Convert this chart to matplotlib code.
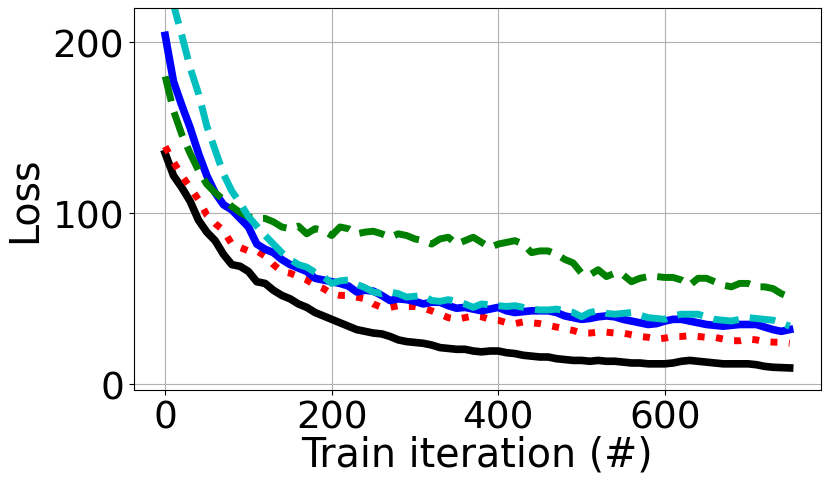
import matplotlib
matplotlib.use('Agg')
import matplotlib.pyplot as plt
import numpy as np

# train iterations, sampled every 10
iters = np.arange(0, 751, 10)

loss_black = [135, 122, 115, 107, 96, 89, 84, 76, 70, 69,
              66, 60, 59, 55, 52, 50, 47, 45, 42, 40,
              38, 36, 34, 32, 31, 30, 29.5, 28, 26, 25,
              24.5, 24, 23, 21.5, 21, 20.5, 20.5, 19.5, 19, 19.5,
              19.5, 18.5, 18, 17, 16.5, 16, 16, 15, 14.5, 14,
              14, 13.5, 14, 13.5, 13.5, 13, 12.5, 12.5, 12, 12,
              12, 12.5, 13.5, 14, 13.5, 13, 12.5, 12, 12, 12,
              12, 11.5, 10.5, 10, 9.8, 9.6]

loss_red = [139, 130, 122, 115, 108, 99, 94, 90, 82, 80,
            78, 78, 75, 70, 66, 65, 63, 61, 58, 56,
            53, 52, 52, 51, 50, 47, 45, 45, 46, 45.5,
            45.5, 44.5, 43, 41, 39, 38, 39, 40, 39.5, 38,
            37.5, 36, 35.5, 36.5, 36, 35.5, 34.5, 33.5, 32.5, 31.5,
            30, 30, 30.5, 30.5, 30, 30, 29, 28, 27.5, 26.5,
            27, 28, 28, 28.5, 28, 27.5, 27.5, 26.5, 25.5, 25.5,
            26.5, 26, 25, 24.7, 24.5, 24]

loss_blue = [204, 177, 163, 150, 135, 122, 112, 105, 102, 97,
             92, 82, 79, 77, 73, 70, 68, 66, 62, 61,
             60, 59, 57.5, 54, 55, 54.5, 52, 49, 50, 49.5,
             48.5, 47, 48, 48, 46, 44.5, 45, 44, 43, 44,
             45, 43, 42, 42.5, 43, 43, 43, 42, 40, 39,
             38, 38.5, 39.5, 40, 39.5, 38, 37, 36, 35, 35.5,
             37, 38, 38, 37, 36, 35, 34.5, 34, 34.5, 35,
             35, 35, 33.5, 32, 31, 32]

loss_green = [180, 160, 146, 135, 125, 117, 112, 108, 104, 100.5,
              98, 97, 97, 95, 92, 91, 92.5, 88, 91, 90,
              87, 92, 91, 88, 89, 89.5, 88, 86, 88, 87,
              85, 84, 82, 85, 86, 82, 84, 86, 83, 80,
              82, 83, 84, 82, 77, 78, 78, 76, 73, 71,
              65, 64, 67, 63, 65, 64, 60, 62, 63, 63,
              62.5, 62.5, 61, 58, 62, 62, 60, 58, 57, 59,
              59, 57, 57, 56, 53, 51]

loss_cyan = [242, 222, 204, 185, 170, 151, 137, 123, 113, 106,
             98, 92.5, 87, 82, 77, 73, 70, 68.5, 65.5, 63,
             59, 60.5, 61, 58.5, 56.5, 54, 53, 54, 53, 51,
             51.5, 52, 49, 48.5, 49.5, 48.5, 47, 45, 47, 46.5,
             46, 45.5, 46, 45, 44, 43.5, 43.5, 44, 43, 42,
             39.5, 42, 43, 41.5, 41, 41.5, 42, 40.5, 39, 38.5,
             38, 40, 41, 41, 41, 39.5, 38, 37.5, 37, 38,
             39, 38.5, 38, 37.5, 36, 34]

fig = plt.figure(figsize=(8.3, 4.89), dpi=100)
ax = fig.add_axes([0.1614, 0.2004, 0.8276, 0.7812])

ax.plot(iters, loss_black, 'k-', lw=5.5)
ax.plot(iters, loss_red, 'r:', lw=5)
ax.plot(iters, loss_blue, 'b-', lw=5.5)
ax.plot(iters, loss_green, 'g--', lw=5)
ax.plot(iters, loss_cyan, 'c--', lw=5)

ax.set_ylim(-3.3, 220)
ax.set_xticks([0, 200, 400, 600])
ax.set_yticks([0, 100, 200])
ax.grid(True)
ax.tick_params(labelsize=27)
ax.set_xlabel('Train iteration (#)', fontsize=28.5, labelpad=-1)
ax.set_ylabel('Loss', fontsize=28.5, labelpad=6)

fig.savefig('out.png', dpi=100)
